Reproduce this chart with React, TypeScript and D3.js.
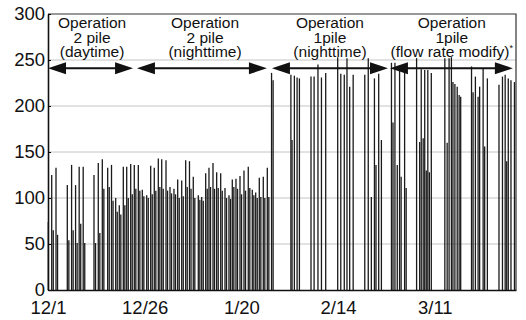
import { useEffect, useRef } from "react";
import * as d3 from "d3";

// time in days counted from 12/1 (fraction = time of day)
// two-pile operation: main peak and the lower second peak shortly after
const pile2Time = [
  0.08, 0.96, 2.07, 4.99, 6.1, 7.13, 8.06, 9.1,
  11.89, 13.0, 14.04, 15.43, 16.42, 17.5, 18.43, 19.47, 20.35, 21.38,
  22.31, 23.35, 24.38, 25.52, 26.55, 27.48, 28.52, 29.4, 30.51, 31.54,
  32.57, 33.53, 34.57, 35.6, 36.58, 37.56, 38.86, 39.74, 40.77, 41.62,
  42.66, 43.61, 44.65, 45.76, 46.79, 47.65, 48.6, 49.64, 50.67, 51.78,
  52.82, 53.7, 54.63, 55.66, 56.7,
];
const pile2Peak = [
  74, 125, 133, 114, 136, 114, 134, 134,
  125, 138, 142, 133, 136, 100, 92, 134, 134, 137,
  136, 136, 109, 103, 135, 133, 143, 142, 141, 112,
  110, 120, 119, 141, 140, 123, 103, 101, 127, 133,
  138, 128, 127, 111, 103, 120, 121, 124, 130, 134,
  109, 106, 122, 123, 133,
];
const pile2Low = [
  0, 65, 60, 54, 65, 51, 72, 51,
  51, 62, 110, 112, 97, 85, 82, 92, 100, 104,
  110, 108, 102, 100, 104, 108, 112, 110, 108, 105,
  104, 100, 102, 112, 110, 100, 98, 97, 110, 112,
  110, 111, 108, 100, 99, 112, 110, 104, 108, 111,
  103, 100, 101, 100, 101,
];

// one-pile operation (nighttime, then flow rate modify)
const pile1Time = [
  57.8, 58.2,
  62.8, 63.1, 63.7, 64.4, 65.0,
  68.0, 68.8, 69.8, 70.7, 71.8,
  74.9, 75.7, 76.6, 77.3, 78.0, 78.9,
  81.9, 82.8, 83.6, 84.4, 84.8, 85.5, 86.2,
  88.8, 89.2, 89.7, 90.3, 90.9, 91.3, 92.2, 92.6,
  95.3, 96.1, 96.5, 97.0, 97.4, 97.8, 98.2, 98.6, 99.1,
  102.6, 103.2, 103.7, 104.3, 104.7, 105.2, 105.8, 106.3, 106.7,
  109.5, 109.9, 110.5, 111.2, 111.6, 112.5, 112.9, 113.6,
  116.6, 117.5, 118.2, 118.6, 119.0, 119.7, 120.6,
];
const pile1Value = [
  236, 228,
  234, 163, 233, 231, 230,
  232, 232, 245, 231, 236,
  253, 235, 234, 252, 221, 234,
  234, 252, 101, 230, 136, 235, 163,
  247, 182, 247, 136, 244, 123, 244, 111,
  252, 161, 240, 165, 239, 130, 239, 128, 236,
  252, 160, 252, 253, 226, 224, 221, 212, 210,
  243, 215, 232, 210, 221, 241, 156, 230,
  223, 232, 234, 140, 230, 228, 226,
];

const yTicks = [0, 50, 100, 150, 200, 250, 300];
const xTickDays = [0, 25, 50, 75, 100];

const phaseText = [
  ["Operation", "2 pile", "(daytime)"],
  ["Operation", "2 pile", "(nighttime)"],
  ["Operation", "1pile", "(nighttime)"],
  ["Operation", "1pile", "(flow rate modify)"],
];
const phaseFrom = [0, 23, 57.9, 88.4];
const phaseTo = [22, 56.6, 87.9, 120.2];
const phaseCenter = [11.4, 40.6, 72.9, 104.4];
const arrowLevel = 241;

const start = new Date(2010, 11, 1);
const toDate = (d: number) => new Date(start.getTime() + d * 864e5);

export default function App() {
  const svgRef = useRef<SVGSVGElement>(null);
  const width = 526;
  const height = 320;

  useEffect(() => {
    if (!svgRef.current) return;
    const svg = d3.select(svgRef.current);
    svg.selectAll("*").remove();

    const font = "'Liberation Sans', Arial, sans-serif";
    const left = 48, right = 516, top = 14, bottom = 290;

    const x = d3.scaleTime().domain([toDate(0), toDate(121)]).range([left, right]);
    const y = d3.scaleLinear().domain([0, 300]).range([bottom, top]);

    svg.append("rect").attr("width", width).attr("height", height).attr("fill", "#fff");

    // grid
    svg.append("g")
      .selectAll("line")
      .data(yTicks.filter((v) => v > 0 && v < 300))
      .join("line")
      .attr("x1", left)
      .attr("x2", right)
      .attr("y1", (d) => y(d))
      .attr("y2", (d) => y(d))
      .attr("stroke", "#c4c4c4")
      .attr("stroke-width", 1);

    // frame top / right
    svg.append("path")
      .attr("d", `M${left},${y(300)}H${right}V${bottom}`)
      .attr("fill", "none")
      .attr("stroke", "#333")
      .attr("stroke-width", 1.2);

    // spikes
    const spikes: { t: number; v: number }[] = [];
    pile2Time.forEach((t, i) => {
      spikes.push({ t, v: pile2Peak[i] });
      if (pile2Low[i] > 0) spikes.push({ t: t + 0.4, v: pile2Low[i] });
    });
    pile1Time.forEach((t, i) => spikes.push({ t, v: pile1Value[i] }));

    svg.append("g")
      .selectAll("line")
      .data(spikes)
      .join("line")
      .attr("x1", (d) => x(toDate(d.t)))
      .attr("x2", (d) => x(toDate(d.t)))
      .attr("y1", y(0))
      .attr("y2", (d) => y(d.v))
      .attr("stroke", "#1a1a1a")
      .attr("stroke-width", 1.3);

    // axes
    const yAxis = svg.append("g")
      .attr("transform", `translate(${left},0)`)
      .call(d3.axisLeft(y).tickValues(yTicks).tickSizeInner(-3).tickSizeOuter(0).tickPadding(3));
    const xAxis = svg.append("g")
      .attr("transform", `translate(0,${bottom})`)
      .call(
        d3.axisBottom(x)
          .tickValues(xTickDays.map(toDate))
          .tickFormat((d) => d3.timeFormat("%-m/%-d")(d as Date))
          .tickSize(0)
          .tickPadding(11)
      );
    [yAxis, xAxis].forEach((a) => {
      a.selectAll("text").attr("font-size", 18.5).attr("font-family", font).attr("fill", "#111");
      a.select(".domain").attr("stroke", "#111").attr("stroke-width", 1.6);
    });

    // phase arrows and labels
    const ay = y(arrowLevel);
    const head = 18, hw = 6;
    phaseFrom.forEach((f, i) => {
      const x1 = x(toDate(f));
      const x2 = x(toDate(phaseTo[i]));
      svg.append("line")
        .attr("x1", x1 + head - 2).attr("x2", x2 - head + 2)
        .attr("y1", ay).attr("y2", ay)
        .attr("stroke", "#111").attr("stroke-width", 2);
      svg.append("path")
        .attr("d", `M${x1},${ay}L${x1 + head},${ay - hw}L${x1 + head},${ay + hw}Z`)
        .attr("fill", "#111");
      svg.append("path")
        .attr("d", `M${x2},${ay}L${x2 - head},${ay - hw}L${x2 - head},${ay + hw}Z`)
        .attr("fill", "#111");

      const cx = x(toDate(phaseCenter[i]));
      const t = svg.append("text")
        .attr("text-anchor", "middle")
        .attr("font-family", font)
        .attr("font-size", 15.5)
        .attr("fill", "#111");
      phaseText[i].forEach((line, j) => {
        t.append("tspan").attr("x", cx).attr("y", 28 + j * 14.5).text(line);
        if (i === 3 && j === 2) {
          t.append("tspan").attr("font-size", 9).attr("dy", -6).text("*");
        }
      });
    });
  }, []);

  return (
    <svg
      ref={svgRef}
      width={width}
      height={height}
      style={{ position: "absolute", left: 0, top: 0 }}
    />
  );
}
